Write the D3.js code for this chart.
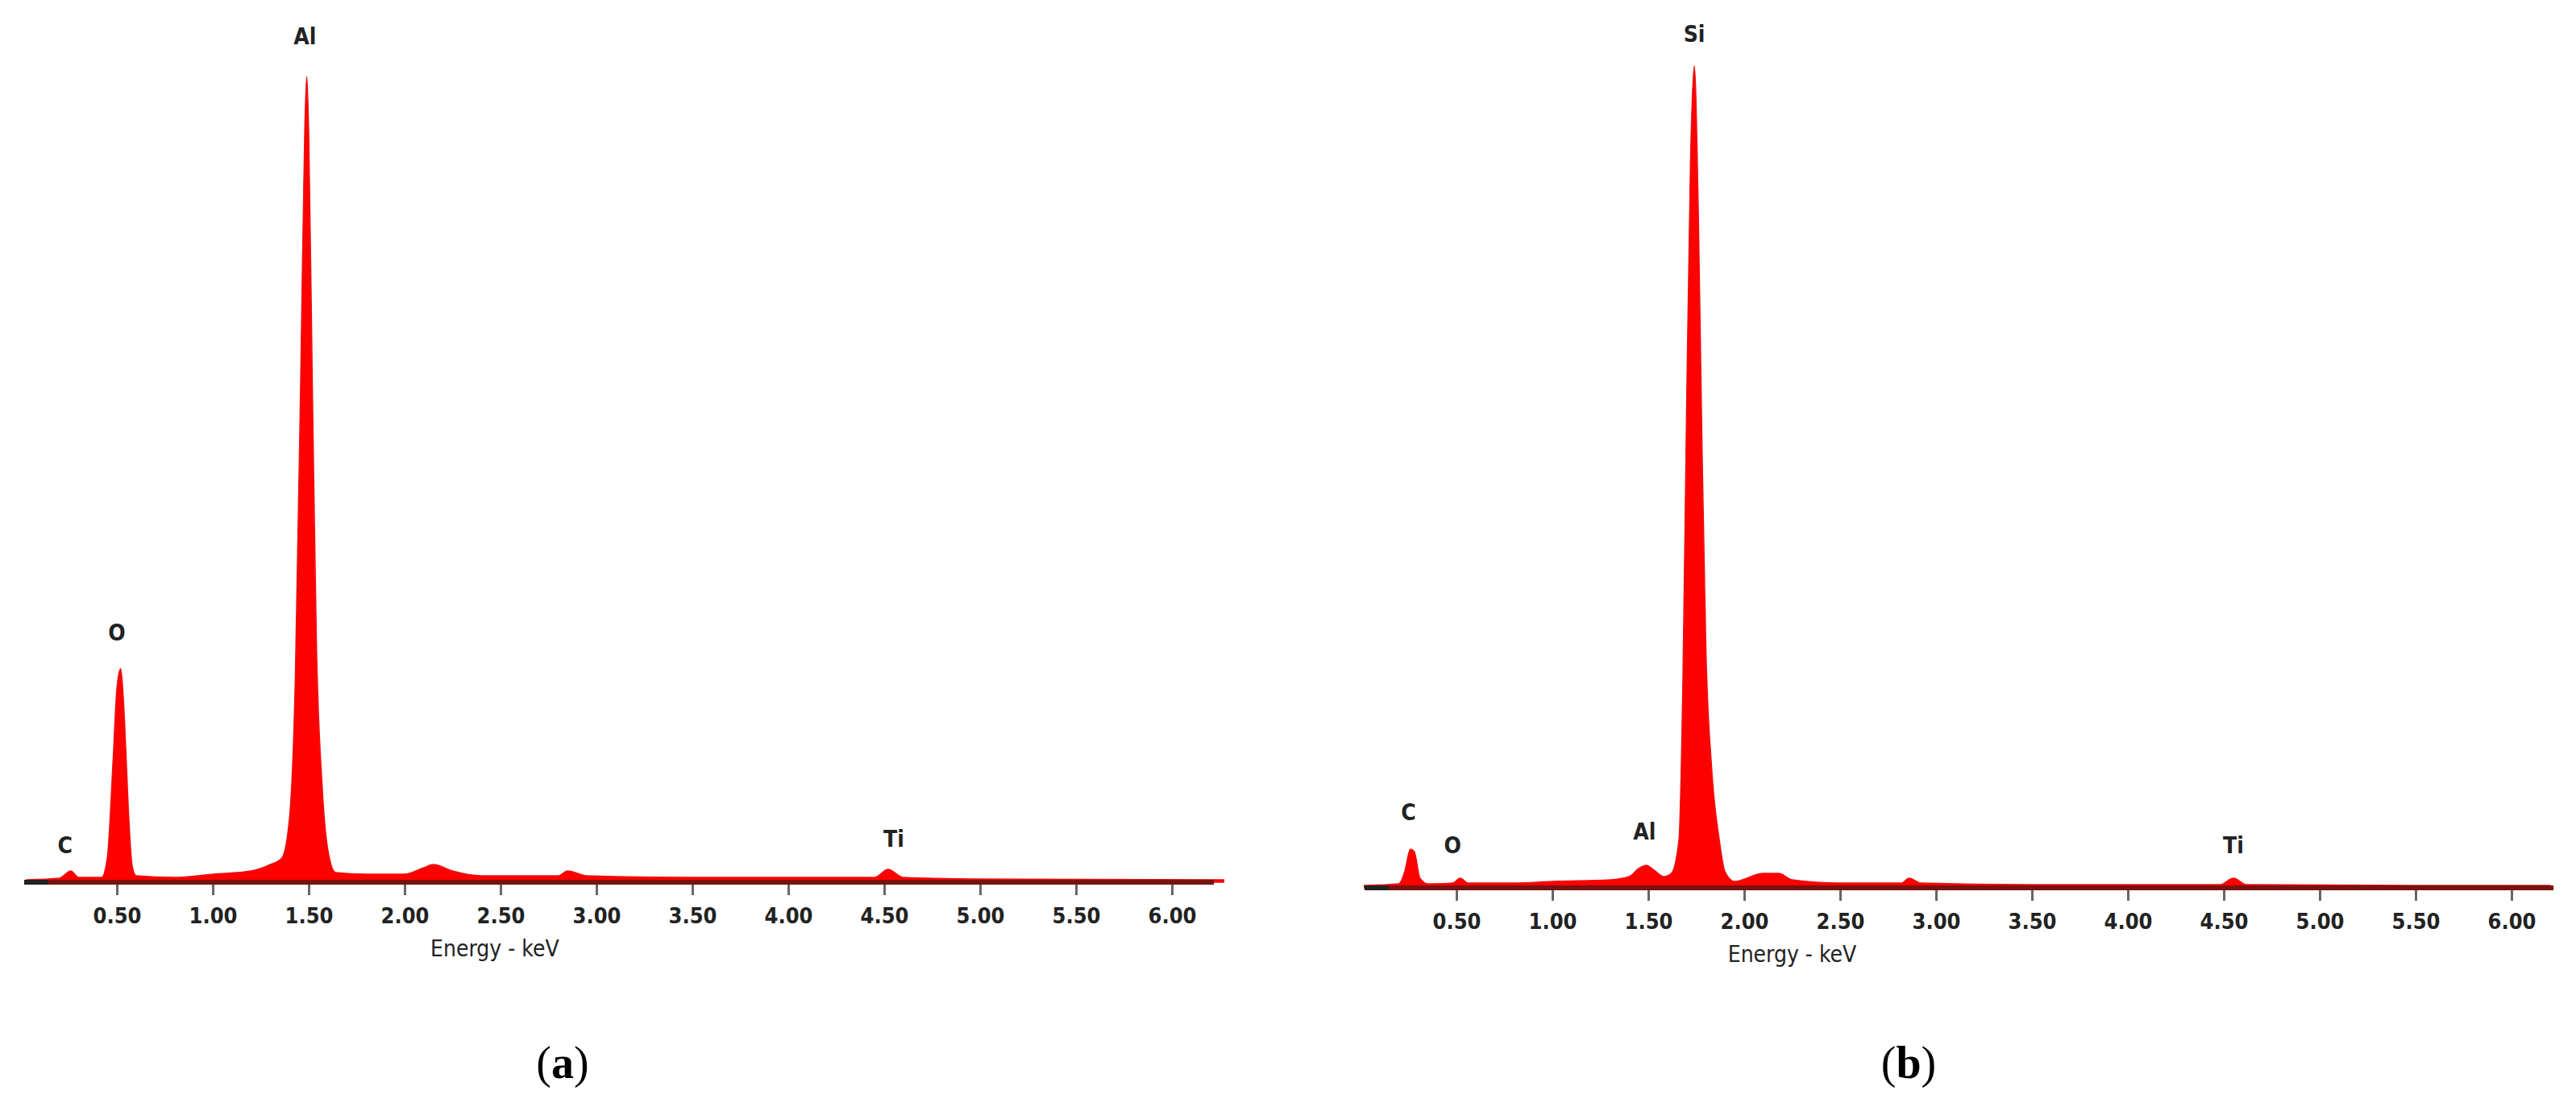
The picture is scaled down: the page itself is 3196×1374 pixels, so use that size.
<!DOCTYPE html>
<html><head><meta charset="utf-8">
<script src="https://cdn.jsdelivr.net/npm/d3@7"></script>
<style>body{margin:0;background:#fff}</style></head>
<body><svg id="c" width="3196" height="1374"></svg>
<script>
// Spectrum (a): energy keV, counts
const energyA = [0.03,0.2,0.26,0.3,0.42,0.45,0.48,0.5,0.52,0.54,0.56,0.58,0.6,0.8,1.0,1.2,1.3,1.36,1.4,1.43,1.46,1.48,1.49,1.5,1.52,1.54,1.57,1.6,1.64,1.8,2.0,2.1,2.15,2.25,2.4,2.8,2.85,2.95,3.5,4.0,4.45,4.52,4.6,5.0,6.27];
const countsA = [3,5,14,6,6,30,150,240,265,200,90,20,8,6,10,14,22,30,80,250,650,940,1000,930,600,300,120,40,12,10,10,18,22,14,8,8,14,8,6,6,6,16,6,4,3];
// Spectrum (b)
const energyB = [0.02,0.2,0.23,0.26,0.28,0.31,0.35,0.48,0.52,0.56,0.8,1.0,1.3,1.4,1.45,1.49,1.53,1.58,1.62,1.66,1.68,1.7,1.72,1.74,1.76,1.78,1.8,1.83,1.87,1.9,1.95,2.1,2.18,2.25,2.5,2.82,2.86,2.92,3.5,4.48,4.55,4.62,5.5,6.2];
const countsB = [3,5,20,48,45,12,5,6,12,6,6,8,10,14,24,28,22,14,18,60,250,600,900,1020,850,550,300,150,60,20,8,18,18,10,6,6,12,6,4,4,12,4,3,3];
const tickValues = [0.5,1.0,1.5,2.0,2.5,3.0,3.5,4.0,4.5,5.0,5.5,6.0];
const labelsA = [{t:"C",e:0.23,c:36},{t:"O",e:0.5,c:300},{t:"Al",e:1.48,c:1040},{t:"Ti",e:4.55,c:44}];
const labelsB = [{t:"C",e:0.25,c:84},{t:"O",e:0.48,c:43},{t:"Al",e:1.48,c:60},{t:"Si",e:1.74,c:1050},{t:"Ti",e:4.55,c:43}];

const svg = d3.select("#c");
function panel(x0, x1, zeroX, pxPerKeV, base, en, cn, labels, cap, capX, titleE){
  const maxE = (x1-zeroX)/pxPerKeV, minE=(x0-zeroX)/pxPerKeV;
  const x = d3.scaleLinear().domain([minE,maxE]).range([x0,x1]);
  const y = d3.scaleLinear().domain([0,1000]).range([base, base-1000]);
  const g = svg.append("g");
  const pts = en.map((e,i)=>[e,cn[i]]);
  g.append("path").datum(pts)
    .attr("d", d3.area().x(d=>x(d[0])).y0(base).y1(d=>y(d[1])).curve(d3.curveMonotoneX))
    .attr("fill","#ff0000").attr("stroke","#ee1010").attr("stroke-width",1.5);
  const ax = g.append("g").attr("transform",`translate(0,${base})`)
    .call(d3.axisBottom(x).tickValues(tickValues).tickSize(16).tickFormat(d3.format(".2f")));
  ax.select(".domain").remove();
  ax.selectAll(".tick line").attr("stroke","#666").attr("stroke-width",3);
  ax.selectAll(".tick text").attr("dy","1.2em").attr("font-family","DejaVu Sans Condensed").attr("font-weight","bold").attr("font-size",27).attr("fill","#222");
  g.append("line").attr("x1",x0).attr("x2",x1).attr("y1",base).attr("y2",base).attr("stroke","#7a1010").attr("stroke-width",6);
  g.append("line").attr("x1",x0).attr("x2",x0+30).attr("y1",base).attr("y2",base).attr("stroke","#222").attr("stroke-width",6);
  g.append("text").attr("x",x(titleE)).attr("y",base+92).attr("text-anchor","middle")
    .attr("font-family","DejaVu Sans Condensed").attr("font-size",28).attr("fill","#222").text("Energy - keV");
  labels.forEach(l=>g.append("text").attr("x",x(l.e)).attr("y",y(l.c)).attr("text-anchor","middle")
    .attr("font-family","DejaVu Sans Condensed").attr("font-weight","bold").attr("font-size",28).attr("fill","#222").text(l.t));
  const t = svg.append("text").attr("x",capX).attr("y",1338).attr("text-anchor","middle")
    .attr("font-family","Liberation Serif").attr("font-size",56).attr("fill","#000");
  t.append("tspan").text("(");
  t.append("tspan").attr("font-weight","bold").text(cap);
  t.append("tspan").text(")");
}
panel(30, 1506, 26, 238, 1095, energyA, countsA, labelsA, "a", 698, 2.47);
panel(1693, 3168, 1688, 238, 1102, energyB, countsB, labelsB, "b", 2368, 2.25);
</script></body></html>
